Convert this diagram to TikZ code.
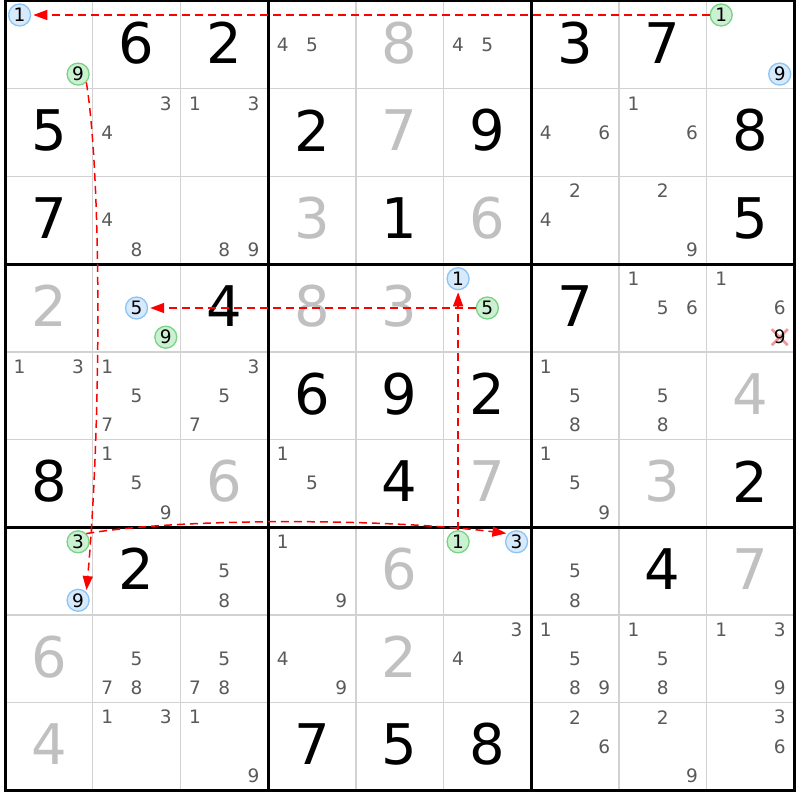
\documentclass[tikz,border=0pt]{standalone}
\usepackage{fontspec}
\setmainfont{DejaVu Sans}
\usetikzlibrary{arrows.meta}
\definecolor{gridthin}{RGB}{210,210,210}
\definecolor{candgray}{RGB}{90,90,90}
\definecolor{solvedgray}{RGB}{192,192,192}
\definecolor{bluefill}{RGB}{214,234,252}
\definecolor{bluedraw}{RGB}{140,196,245}
\definecolor{greenfill}{RGB}{204,240,210}
\definecolor{greendraw}{RGB}{120,212,132}
\definecolor{xpink}{RGB}{242,150,150}
\newcommand\candset[3]{%
  \foreach \dd in {#3}{%
    \pgfmathsetmacro\cx{5+(#2-1)*87.7+(mod(\dd-1,3)+0.5)*29.2333}%
    \pgfmathsetmacro\cy{1+(#1-1)*87.7+(floor((\dd-1)/3)+0.5)*29.2333}%
    \node[cand] (k-#1-#2-\dd) at (\cx,\cy) {\dd};}}
\begin{document}
\begin{tikzpicture}[x=1pt,y=-1pt,
  thinline/.style={draw=gridthin,line width=1.5pt},
  thickline/.style={draw=black,line width=3pt},
  given/.style={inner sep=0pt,font=\fontsize{56}{60}\selectfont,text=black},
  solved/.style={given,text=solvedgray},
  cand/.style={inner sep=0pt,font=\fontsize{18.5}{20}\selectfont,text=candgray},
  bluec/.style={circle,inner sep=0pt,minimum size=22pt,line width=1.3pt,draw=bluedraw,fill=bluefill,font=\fontsize{18.5}{20}\selectfont,text=black},
  greenc/.style={bluec,draw=greendraw,fill=greenfill},
  chain/.style={draw=red,line width=1.5pt,dash pattern=on 8pt off 5pt,-{Triangle[length=14pt,width=10pt]},shorten >=2pt},
  xmark/.style={draw=xpink,line width=2.6pt}
]
\useasboundingbox (0,0) rectangle (800,800);
\fill[white] (0,0) rectangle (800,800);
% thin grid
\foreach \i in {1,2,4,5,7,8}{
  \draw[thinline] ({5+\i*87.7},1) -- ({5+\i*87.7},790.3);
  \draw[thinline] (5,{1+\i*87.7}) -- (794.3,{1+\i*87.7});
}
% thick grid
\foreach \i in {3,6}{
  \draw[thickline] ({5+\i*87.7},1) -- ({5+\i*87.7},790.3);
  \draw[thickline] (5,{1+\i*87.7}) -- (794.3,{1+\i*87.7});
}
\draw[thickline] (5,1) rectangle (794.3,790.3);
% given digits
\foreach \r/\c/\d in {1/2/6,1/3/2,1/7/3,1/8/7,2/1/5,2/4/2,2/6/9,2/9/8,3/1/7,3/5/1,3/9/5,4/3/4,4/7/7,5/4/6,5/5/9,5/6/2,6/1/8,6/5/4,6/9/2,7/2/2,7/8/4,9/4/7,9/5/5,9/6/8}
  \node[given] (g-\r-\c) at ({5+(\c-0.5)*87.7},{1+(\r-0.5)*87.7-2}) {\d};
% solved digits
\foreach \r/\c/\d in {1/5/8,2/5/7,3/4/3,3/6/6,4/1/2,4/4/8,4/5/3,5/9/4,6/3/6,6/6/7,6/8/3,7/5/6,7/9/7,8/1/6,8/5/2,9/1/4}
  \node[solved] (s-\r-\c) at ({5+(\c-0.5)*87.7},{1+(\r-0.5)*87.7-2}) {\d};
% candidates
\candset{1}{4}{4,5}\candset{1}{6}{4,5}
\candset{2}{2}{3,4}\candset{2}{3}{1,3}\candset{2}{7}{4,6}\candset{2}{8}{1,6}
\candset{3}{2}{4,8}\candset{3}{3}{8,9}\candset{3}{7}{2,4}\candset{3}{8}{2,9}
\candset{4}{8}{1,5,6}\candset{4}{9}{1,6}
\candset{5}{1}{1,3}\candset{5}{2}{1,5,7}\candset{5}{3}{3,5,7}\candset{5}{7}{1,5,8}\candset{5}{8}{5,8}
\candset{6}{2}{1,5,9}\candset{6}{4}{1,5}\candset{6}{7}{1,5,9}
\candset{7}{3}{5,8}\candset{7}{4}{1,9}\candset{7}{7}{5,8}
\candset{8}{2}{5,7,8}\candset{8}{3}{5,7,8}\candset{8}{4}{4,9}\candset{8}{6}{3,4}\candset{8}{7}{1,5,8,9}\candset{8}{8}{1,5,8}\candset{8}{9}{1,3,9}
\candset{9}{2}{1,3}\candset{9}{3}{1,9}\candset{9}{7}{2,6}\candset{9}{8}{2,9}\candset{9}{9}{3,6}
% eliminated candidate
\draw[xmark] (771.7,329.2) -- (787.7,345.2);
\draw[xmark] (771.7,345.2) -- (787.7,329.2);
\node[cand,text=black] (k-4-9-9) at (779.7,337.2) {9};
% chain circles
\node[bluec] (A1) at (19.6,15) {1};
\node[greenc] (A9) at (78.1,74.1) {9};
\node[greenc] (B1) at (721.2,15) {1};
\node[bluec] (B9) at (779.7,74.1) {9};
\node[greenc] (C3) at (78.1,541.8) {3};
\node[bluec] (C9) at (78.1,600.3) {9};
\node[greenc] (D1) at (458.1,541.8) {1};
\node[bluec] (D3) at (516.6,541.8) {3};
\node[bluec] (E1) at (458.1,278.7) {1};
\node[greenc] (E5) at (487.35,308) {5};
\node[bluec] (F5) at (136.55,308) {5};
\node[greenc] (F9) at (165.8,337.2) {9};
% chain arrows
\draw[chain] (B1) -- (A1);
\draw[chain] (A9.-45) .. controls (102,180) and (101,430) .. (C9.45);
\draw[chain] (C3.45) .. controls (180,518) and (380,518) .. (D3.135);
\draw[chain] (D1) -- (E1);
\draw[chain] (E5) -- (F5);
\end{tikzpicture}
\end{document}
